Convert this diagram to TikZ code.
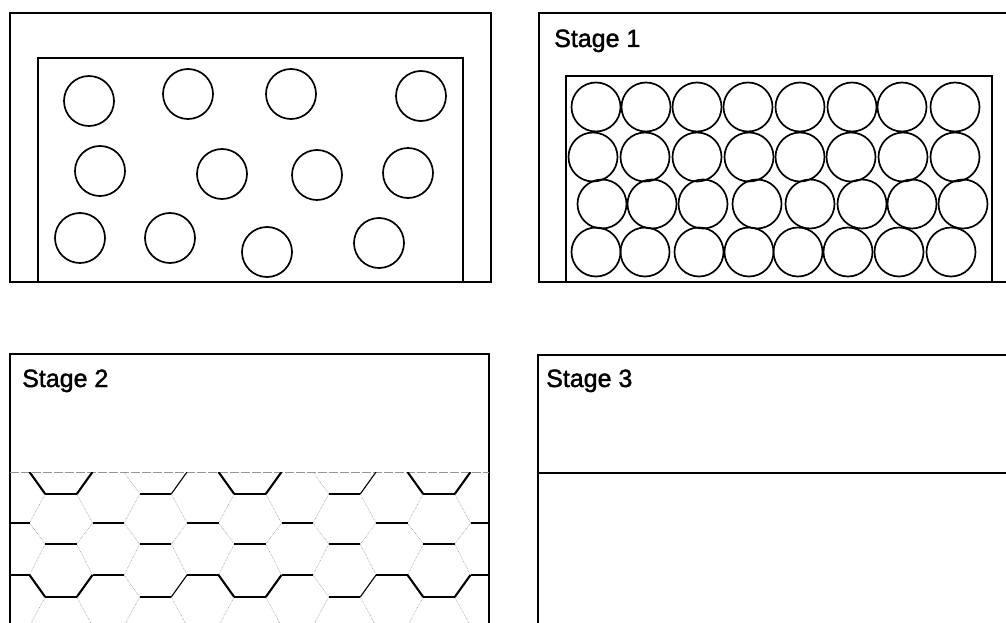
\documentclass[tikz,border=0pt]{standalone}
\usepackage{fontspec}
\setmainfont{Liberation Sans}
\newfontfamily\scanfont[FakeBold=1.6]{Liberation Sans}
\usepackage{xcolor}
\definecolor{scanGray}{RGB}{150,150,150}
\tikzset{
  frame/.style={draw=black, line width=1.5pt},
  bead/.style={draw=black, line width=1.7pt},
  stagelabel/.style={anchor=base west, inner sep=0pt, font=\scanfont\fontsize{25}{30}\selectfont},
  hexbold/.style={draw=black, line width=2.1pt},
  hexthin/.style={draw=black, line width=1.1pt},
  hexfaint/.style={draw=scanGray, line width=.6pt, densely dotted},
  cutline/.style={draw=scanGray, line width=1pt, dash pattern=on 9pt off 2pt}
}
\begin{document}
\begin{tikzpicture}[x=1pt, y=-1pt]
  \useasboundingbox (0,0) rectangle (1006,623);
  \draw[frame] (10,13) rectangle (491,282);
  \draw[frame] (38,58) rectangle (463,282);
  \foreach \cx/\cy in {89/101, 188/94, 291/94, 421/96, 100/171, 222/174, 317/175, 408/173, 80/238, 170/238, 267/252, 379/243}
    \draw[bead] (\cx,\cy) circle[radius=25pt];

  \draw[frame] (1006,13) -- (539,13) -- (539,282) -- (1006,282);
  \draw[frame] (566,76) rectangle (992,282);
  \node[stagelabel] (stageone) at (554,47) {Stage 1};
  \foreach \cy/\xs in {107/{596,646,697,748,800,852,902,955}, 157/{593,645,697,749,800,851,903,955}, 204/{602,652,703,757,810,862,912,963}, 252/{596,645,699,749,798,848,899,951}}
    \foreach \cx in \xs
      \draw[bead] (\cx,\cy) circle[radius=24.5pt];

  \draw[frame] (10,623) -- (10,354) -- (489,354) -- (489,623);
  \node[stagelabel] (stagetwo) at (22,387) {Stage 2};
  \draw[cutline] (10,472) -- (489,472);
  \begin{scope}
    \clip (10,472) rectangle (489,623);
    \foreach \yu/\yl/\off/\sideA/\sideB in {472/494/0/hexbold/hexthin, 494/523/47.25/hexfaint/hexfaint, 523/544/0/hexfaint/hexfaint, 544/575/47.25/hexfaint/hexfaint, 575/597/0/hexbold/hexthin, 597/626/47.25/hexfaint/hexfaint}
      \foreach \k in {-1,...,5}{
        \pgfmathsetmacro{\c}{61+\off+94.5*(\k)}
        \ifodd\k \def\lside{hexfaint}\def\rside{\sideB}\else \def\lside{\sideA}\def\rside{\sideA}\fi
        \draw[\lside] (\c-31.5,\yu) -- (\c-15.75,\yl);
        \draw[\rside] (\c+15.75,\yl) -- (\c+31.5,\yu);
      }
    \foreach \y/\off/\w in {494/0/1.6pt, 523/47.25/1.2pt, 544/0/1.2pt, 575/47.25/1.4pt, 597/0/2pt}
      \foreach \k in {-1,...,5}
        \draw[draw=black, line width=\w] (61+\off+94.5*\k-15.75,\y) -- ++(31.5,0);
  \end{scope}

  \draw[frame] (538,623) -- (538,355) -- (1006,355);
  \draw[frame] (538,473) -- (1006,473);
  \node[stagelabel] (stagethree) at (546,387) {Stage 3};
\end{tikzpicture}
\end{document}
